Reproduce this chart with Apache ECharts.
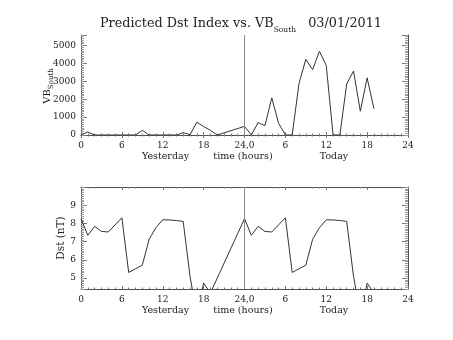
<!DOCTYPE html>
<html>
<head>
<meta charset="utf-8">
<script src="https://cdn.jsdelivr.net/npm/echarts@6/dist/echarts.min.js"></script>
<style>
  html, body { margin: 0; padding: 0; background: #fff; }
  #chart { width: 453px; height: 340px; }
</style>
</head>
<body>
<div id="chart"></div>
<script>
// Hours counted from midnight yesterday (0-24) through today (24-48)
const hours = [
  0, 1, 2, 3, 4, 5, 6, 7, 8, 9, 10, 11, 12, 13, 14, 15, 16, 17, 18, 19, 20,
  24, 25, 26, 27, 28, 29, 30, 31, 32, 33, 34, 35, 36, 37, 38, 39, 40, 41, 42, 43
];
// Southward IMF component times solar wind speed
const vbSouth = [
  0, 170, 0, 0, 0, 0, 0, 0, 0, 260, 0, 0, 0, 0, 0, 130, 20, 710, 470, 260, 0,
  480, 0, 690, 520, 2070, 660, 0, 0, 2880, 4220, 3650, 4670, 3880, 0, 0, 2850, 3570, 1330, 3190, 1470
];
// Predicted Dst index (nT)
const dstIndex = [
  8.26, 7.35, 7.84, 7.56, 7.53, 7.92, 8.31, 5.31, 5.51, 5.71, 7.13, 7.77, 8.20, 8.19, 8.16, 8.11, 5.10, 3.00, 4.72, 4.18, 5.00,
  8.26, 7.35, 7.84, 7.56, 7.53, 7.92, 8.31, 5.31, 5.51, 5.71, 7.13, 7.77, 8.20, 8.19, 8.16, 8.11, 5.10, 3.00, 4.72, 4.18
];
// Labels for the 6-hour ticks along the time axis
const hourTickLabels = ['0', '6', '12', '18', '24,0', '6', '12', '18', '24'];
const dayLabels = ['Yesterday', 'Today'];
const titleText = 'Predicted Dst Index vs. VB';
const titleDate = '03/01/2011';

const FONT = 'DejaVu Serif';
const AXIS = '#505050';
const TICK = '#777';
const INK = '#222';
const LINE = '#333';

const chart = echarts.init(document.getElementById('chart'), null, { renderer: 'canvas' });

function timeAxes(gridIndex) {
  const common = {
    type: 'value', gridIndex: gridIndex, min: 0, max: 48, interval: 6,
    axisLine: { show: true, lineStyle: { color: AXIS, width: 1 } },
    axisTick: { show: true, inside: true, length: 3, lineStyle: { color: TICK, width: 1 } },
    minorTick: { show: true, splitNumber: 6, length: 1.5, lineStyle: { color: TICK, width: 1 } },
    splitLine: { show: false }, minorSplitLine: { show: false }
  };
  return [
    Object.assign({}, common, {
      position: 'bottom',
      axisLabel: {
        show: true, fontFamily: FONT, fontSize: 9, color: INK, margin: 6,
        formatter: function (v) { return hourTickLabels[Math.round(v / 6)]; }
      }
    }),
    Object.assign({}, common, { position: 'top', axisLabel: { show: false } })
  ];
}

function valueAxes(gridIndex, min, max, minorStep, fmt) {
  const major = {
    type: 'value', gridIndex: gridIndex, min: min, max: max, splitNumber: 5,
    axisLine: { show: true, lineStyle: { color: AXIS, width: 1 } },
    axisTick: { show: true, inside: true, length: 6, lineStyle: { color: TICK, width: 1 } },
    splitLine: { show: false }
  };
  const minor = {
    type: 'value', gridIndex: gridIndex, min: min, max: max, interval: minorStep,
    axisLine: { show: false },
    axisTick: { show: true, inside: true, length: 3, lineStyle: { color: '#9a9a9a', width: 1 } },
    axisLabel: { show: false },
    splitLine: { show: false }
  };
  return [
    Object.assign({}, major, {
      position: 'left',
      axisLabel: { show: true, fontFamily: FONT, fontSize: 9, color: INK, margin: 5, formatter: fmt,
                   padding: [0, 0, 4, 0] }
    }),
    Object.assign({}, minor, { position: 'left' }),
    Object.assign({}, major, { position: 'right', axisLabel: { show: false } }),
    Object.assign({}, minor, { position: 'right' })
  ];
}

const midnightLine = {
  silent: true, symbol: 'none', label: { show: false },
  lineStyle: { color: '#8a8a8a', width: 1, type: 'solid' },
  data: [{ xAxis: 24 }]
};

function dayText(x, y, text) {
  return { type: 'text', x: x, y: y, silent: true,
    style: { text: text, fontFamily: FONT, fontSize: 9.5, fill: INK, align: 'center', verticalAlign: 'middle' } };
}

const option = {
  animation: false,
  backgroundColor: '#fff',
  grid: [
    { left: 81, top: 35, width: 327, height: 100, outerBoundsMode: 'none', containLabel: false },
    { left: 81, top: 187, width: 327, height: 102, outerBoundsMode: 'none', containLabel: false }
  ],
  xAxis: timeAxes(0).concat(timeAxes(1)),
  yAxis: valueAxes(0, 0, 5580, 100, function (v) { return v % 1000 === 0 ? String(v) : ''; })
    .concat(valueAxes(1, 4.4, 10, 0.1, function (v) {
      return (Math.abs(v - Math.round(v)) < 1e-6 && v < 10) ? String(Math.round(v)) : '';
    })),
  series: [
    {
      name: 'VBs', type: 'line', xAxisIndex: 0, yAxisIndex: 0,
      data: hours.map(function (h, i) { return [h, vbSouth[i]]; }),
      showSymbol: false, clip: true,
      lineStyle: { color: LINE, width: 1 },
      markLine: midnightLine
    },
    {
      name: 'Dst', type: 'line', xAxisIndex: 2, yAxisIndex: 4,
      data: hours.map(function (h, i) { return [h, dstIndex[i]]; }),
      showSymbol: false, clip: true,
      lineStyle: { color: LINE, width: 1 },
      markLine: midnightLine
    }
  ],
  graphic: [
    {
      type: 'text', x: 100, y: 24, silent: true,
      style: {
        text: '{m|' + titleText + '}{s|South}{m|   ' + titleDate + '}',
        align: 'left', verticalAlign: 'middle',
        rich: {
          m: { fontFamily: FONT, fontSize: 12.8, fill: INK, lineHeight: 20, verticalAlign: 'middle' },
          s: { fontFamily: FONT, fontSize: 7.5, fill: INK, lineHeight: 20, verticalAlign: 'bottom' }
        }
      }
    },
    {
      type: 'text', x: 47, y: 86, rotation: Math.PI / 2, silent: true,
      style: {
        text: '{m|VB}{s|South}', align: 'center', verticalAlign: 'middle',
        rich: {
          m: { fontFamily: FONT, fontSize: 10, fill: INK, lineHeight: 16, verticalAlign: 'middle' },
          s: { fontFamily: FONT, fontSize: 7, fill: INK, lineHeight: 16, verticalAlign: 'bottom' }
        }
      }
    },
    {
      type: 'text', x: 61, y: 238, rotation: Math.PI / 2, silent: true,
      style: { text: 'Dst (nT)', fontFamily: FONT, fontSize: 10.5, fill: INK, align: 'center', verticalAlign: 'middle' }
    },
    dayText(165.5, 157, dayLabels[0]), dayText(243, 157, 'time (hours)'), dayText(334, 157, dayLabels[1]),
    dayText(165.5, 311, dayLabels[0]), dayText(243, 311, 'time (hours)'), dayText(334, 311, dayLabels[1])
  ]
};

chart.setOption(option);
</script>
</body>
</html>
